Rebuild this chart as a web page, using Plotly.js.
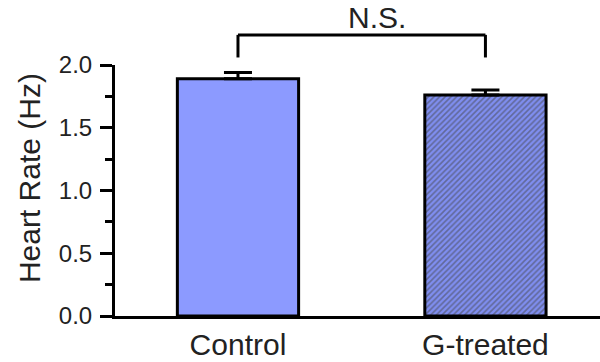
<!DOCTYPE html>
<html>
<head>
<meta charset="utf-8">
<script src="https://cdn.plot.ly/plotly-3.0.1.min.js"></script>
<style>html,body{margin:0;padding:0;background:#fff;}#chart{width:600px;height:362px;}</style>
</head>
<body>
<div id="chart"></div>
<script>
var categories = ['Control', 'G-treated'];
var means = [1.89, 1.76];
var errorsUp = [0.05, 0.04];
var errorsDown = [0, 0];
var bracketLabel = 'N.S.';
var yTitle = 'Heart Rate (Hz)';

var font = 'Liberation Sans, Arial, sans-serif';

var trace = {
  type: 'bar',
  x: categories,
  y: means,
  width: 0.49,
  cliponaxis: false,
  marker: {
    color: ['#8c9aff', '#7f8ef0'],
    line: {color: '#000', width: 3},
    pattern: {
      shape: ['', '/'],
      fillmode: 'overlay',
      bgcolor: ['#8c9aff', '#8090f2'],
      fgcolor: '#1a1d48',
      size: 4,
      solidity: 0.4
    }
  },
  error_y: {type: 'data', symmetric: false, array: errorsUp, arrayminus: errorsDown, visible: true, color: '#000', thickness: 3, width: 14}
};

var layout = {
  width: 600, height: 362,
  margin: {l: 115, r: 0, t: 65, b: 46},
  paper_bgcolor: '#fff', plot_bgcolor: '#fff',
  showlegend: false,
  font: {family: font, color: '#222'},
  xaxis: {
    type: 'category',
    range: [-0.497, 1.463],
    showline: true, linewidth: 3, linecolor: '#000',
    ticks: '', showgrid: false, zeroline: false,
    tickfont: {size: 30, family: font, color: '#222'}
  },
  yaxis: {
    range: [0, 2],
    dtick: 0.5, tick0: 0, tickformat: '.1f',
    showline: true, linewidth: 3, linecolor: '#000',
    ticks: 'outside', ticklen: 12, tickwidth: 3, tickcolor: '#000',
    minor: {dtick: 0.25, ticks: 'outside', ticklen: 7, tickwidth: 3, tickcolor: '#000'},
    showgrid: false, zeroline: false,
    ticklabelstandoff: 3,
    tickfont: {size: 24, family: font, color: '#222'}
  },
  shapes: [
    {type: 'line', xref: 'x', yref: 'paper', x0: 0, x1: 0, y0: 1.03, y1: 1.12, line: {color: '#000', width: 3}},
    {type: 'line', xref: 'x', yref: 'paper', x0: 0, x1: 1, y0: 1.12, y1: 1.12, line: {color: '#000', width: 3}},
    {type: 'line', xref: 'x', yref: 'paper', x0: 1, x1: 1, y0: 1.03, y1: 1.12, line: {color: '#000', width: 3}}
  ],
  annotations: [
    {xref: 'x', yref: 'paper', x: 0.56, y: 1.19, xanchor: 'center', yanchor: 'middle', text: bracketLabel, showarrow: false,
     font: {size: 30, family: font, color: '#222'}},
    {xref: 'paper', yref: 'paper', x: -0.175, y: 0.55, xanchor: 'center', yanchor: 'middle', textangle: -90,
     text: yTitle, showarrow: false, font: {size: 30, family: font, color: '#222'}}
  ]
};

Plotly.newPlot('chart', [trace], layout, {displayModeBar: false, staticPlot: true});
</script>
</body>
</html>
